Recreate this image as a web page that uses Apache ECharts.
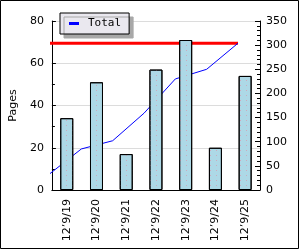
<!DOCTYPE html>
<html>
<head>
<meta charset="utf-8">
<script src="https://cdn.jsdelivr.net/npm/echarts@6/dist/echarts.min.js"></script>
<style>
html,body{margin:0;padding:0;background:#fff;}
#chart{width:300px;height:250px;}
</style>
</head>
<body>
<div id="chart"></div>
<script>
const categories = ['12\u20199/19','12\u20199/20','12\u20199/21','12\u20199/22','12\u20199/23','12\u20199/24','12\u20199/25'];
const pages = [34, 51, 17, 57, 71, 20, 54];
const totalCumulative = [34, 85, 102, 159, 230, 250, 304];
const totalLine = [304, 304, 304, 304, 304, 304, 304];
const leftAxisMax = 80, leftAxisInterval = 20;
const rightAxisMax = 350, rightAxisInterval = 50;

const FONT = 'DejaVu Sans';
const chart = echarts.init(document.getElementById('chart'), null, {renderer: 'canvas'});
chart.setOption({
  animation: false,
  backgroundColor: '#fff',
  textStyle: {fontFamily: FONT},
  grid: [
    {left: 41, right: 40, top: 21, bottom: 60},
    {left: 50, right: 62, top: 21, bottom: 60}
  ],
  legend: {
    data: ['Total'],
    left: 60, top: 13,
    padding: [4, 8, 4, 9],
    backgroundColor: '#EAE8EF',
    borderColor: '#000', borderWidth: 1,
    shadowColor: '#A8A8A8', shadowBlur: 0, shadowOffsetX: 4, shadowOffsetY: 4,
    itemWidth: 10, itemHeight: 3,
    icon: 'rect',
    textStyle: {fontFamily: 'DejaVu Sans Mono', fontSize: 11, color: '#000', padding: [0,0,0,4], lineHeight: 13}
  },
  xAxis: [
    {
      type: 'category', gridIndex: 0, data: categories,
      axisLine: {lineStyle: {color: '#000', width: 1}},
      axisTick: {inside: true, length: 5, lineStyle: {color: '#000'}},
      axisLabel: {rotate: 90, fontSize: 11, color: '#000', margin: 9, fontFamily: FONT},
      splitLine: {show: false}
    },
    {type: 'category', gridIndex: 1, data: categories, boundaryGap: false, show: false}
  ],
  yAxis: [
    {
      type: 'value', gridIndex: 0, position: 'left', min: 0, max: leftAxisMax, interval: leftAxisInterval,
      name: 'Pages', nameLocation: 'middle', nameGap: 29, nameRotate: 90,
      nameTextStyle: {fontSize: 11, color: '#000', fontFamily: FONT},
      axisLine: {show: true, lineStyle: {color: '#000'}},
      axisTick: {show: true, inside: true, length: 4, lineStyle: {color: '#000'}},
      minorTick: {show: true, splitNumber: 2, length: 3, lineStyle: {color: '#000'}},
      axisLabel: {fontSize: 11, color: '#000', margin: 8},
      splitLine: {show: true, lineStyle: {color: '#DCDCDC', width: 1}}
    },
    {
      type: 'value', gridIndex: 0, position: 'right', min: 0, max: rightAxisMax, interval: rightAxisInterval,
      axisLine: {show: true, lineStyle: {color: '#000'}},
      axisTick: {show: true, inside: true, length: 5, lineStyle: {color: '#000'}},
      minorTick: {show: true, splitNumber: 5, length: 3, lineStyle: {color: '#000'}},
      axisLabel: {fontSize: 11, color: '#000', margin: 6},
      splitLine: {show: false}
    },
    {type: 'value', gridIndex: 1, min: 0, max: rightAxisMax, show: false}
  ],
  series: [
    {
      name: 'Target', type: 'line', xAxisIndex: 1, yAxisIndex: 2, data: totalLine,
      symbol: 'none', z: 1, lineStyle: {color: '#FF0000', width: 3}, itemStyle: {color: '#FF0000'}
    },
    {
      name: 'Total', type: 'line', xAxisIndex: 1, yAxisIndex: 2, data: totalCumulative,
      symbol: 'none', z: 1, lineStyle: {color: '#0000FF', width: 1}, itemStyle: {color: '#0000FF'}
    },
    {
      name: 'Pages', type: 'bar', xAxisIndex: 0, yAxisIndex: 0, data: pages,
      barWidth: 13, z: 3,
      itemStyle: {
        color: '#ADD8E6', borderColor: '#000', borderWidth: 1,
        decal: {symbol: 'rect', symbolSize: 1, color: 'rgba(220,150,170,0.7)', dashArrayX: [1, 5], dashArrayY: [1, 4], rotation: 0}
      }
    }
  ],
  graphic: [
    {type: 'rect', shape: {x: 0.5, y: 0.5, width: 298, height: 248}, style: {fill: null, stroke: '#000', lineWidth: 1}, z: 100}
  ]
});
</script>
</body>
</html>
